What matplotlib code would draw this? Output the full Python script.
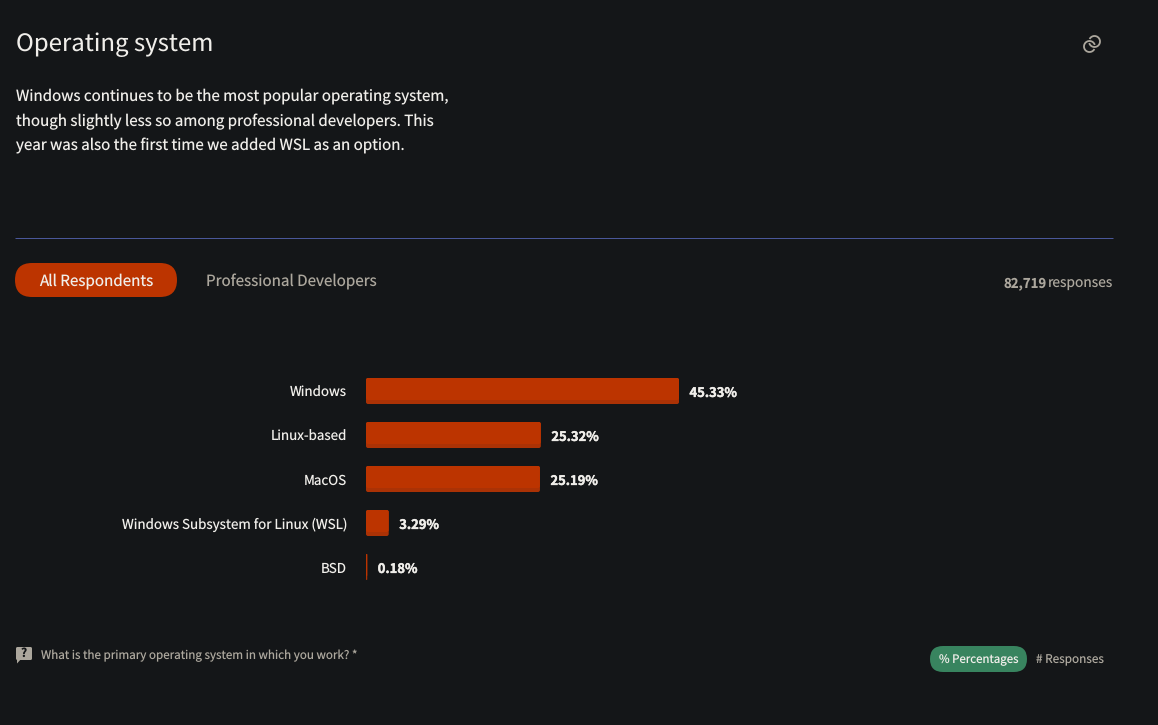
import matplotlib
matplotlib.use("Agg")
import matplotlib.pyplot as plt
import matplotlib.patheffects as pe
from matplotlib.patches import FancyBboxPatch, Polygon, Arc

plt.rcParams["font.family"] = ["Noto Sans CJK SC", "DejaVu Sans"]
plt.rcParams["text.hinting"] = "no_hinting"
plt.rcParams["text.hinting_factor"] = 1

categories = ["Windows", "Linux-based", "MacOS", "Windows Subsystem for Linux (WSL)", "BSD"]
percentages = [45.33, 25.32, 25.19, 3.29, 0.18]
intro_lines = [
    "Windows continues to be the most popular operating system,",
    "though slightly less so among professional developers. This",
    "year was also the first time we added WSL as an option.",
]

W, H = 1158, 725
BG = "#141618"
ORANGE = "#bc3400"
ORANGE_DARK = "#ab3205"
TEXT = "#f0eeea"
MUTED = "#aca79d"


def px(size):
    # font size in css pixels to points at dpi 100
    return size * 0.72


fig = plt.figure(figsize=(W / 100, H / 100), dpi=100, facecolor=BG)

# page layer, measured in pixels from the top left
page = fig.add_axes([0, 0, 1, 1])
page.set_xlim(0, W)
page.set_ylim(H, 0)
page.axis("off")

page.text(15.5, 45, "Operating system", color=TEXT, fontsize=px(24), va="center")
for i, line in enumerate(intro_lines):
    page.text(15.5, 97.4 + i * 24.3, line, color=TEXT, fontsize=px(15.15), va="center")

page.plot([15, 1113], [238, 238], color="#4a5799", lw=0.72, solid_capstyle="butt")

# tabs
page.add_patch(FancyBboxPatch((15, 263), 162, 34, boxstyle="round,pad=0,rounding_size=17",
                              fc=ORANGE, ec="none"))
page.text(96, 281.5, "All Respondents", color=TEXT, fontsize=px(15.2), ha="center", va="center")
page.text(291, 281.5, "Professional Developers", color=MUTED, fontsize=px(15.2), ha="center", va="center")

page.text(1113.5, 284, "responses", color=MUTED, fontsize=px(13.8), ha="right", va="center")
page.text(1046.5, 284, "82,719", color=MUTED, fontsize=px(13.2), ha="right", va="center", fontweight="bold")

# link icon, two interlocked rings
page.add_patch(Arc((1089.5, 46.5), 11, 11, theta1=27, theta2=343, ec=MUTED, lw=1.3))
page.add_patch(Arc((1094.5, 41.5), 11, 11, theta1=207, theta2=523, ec=MUTED, lw=1.3))

# question bubble and footer
page.add_patch(FancyBboxPatch((16, 647), 16, 13, boxstyle="round,pad=0,rounding_size=1.5", fc=MUTED, ec="none"))
page.add_patch(Polygon([[17, 658], [22, 658], [17, 663.5]], fc=MUTED, ec="none"))
page.text(24, 653.5, "?", color=BG, fontsize=px(12), ha="center", va="center", fontweight="bold")
page.text(41, 655.5, "What is the primary operating system in which you work? *", color=MUTED,
          fontsize=px(11.65), va="center")

page.add_patch(FancyBboxPatch((930, 646), 97, 26, boxstyle="round,pad=0,rounding_size=13",
                              fc="#38845f", ec="none"))
page.text(978.5, 659.5, "% Percentages", color=TEXT, fontsize=px(11.5), ha="center", va="center")
page.text(1070, 659.5, "# Responses", color=MUTED, fontsize=px(11.8), ha="center", va="center")

# bar chart, 6.905 px per percentage point and 44 px per row
ax = fig.add_axes([366 / W, 1 - 589 / H, 747 / W, 220 / H])
ax.patch.set_alpha(0)
x_scale = 6.905
ax.set_xlim(0, 747 / x_scale)
ax.set_ylim(4.5, -0.5)
ax.set_xticks([])
ax.set_yticks([])
for spine in ax.spines.values():
    spine.set_visible(False)

bar_h = 26 / 44
top_h = 22 / 44
aspect = (1 / 44) / (1 / x_scale)
for i, (name, v) in enumerate(zip(categories, percentages)):
    r = min(2 / x_scale, v / 2)
    box = f"round,pad=0,rounding_size={r}"
    ax.add_patch(FancyBboxPatch((0, i - bar_h / 2), v, bar_h, boxstyle=box,
                                fc=ORANGE_DARK, ec="none", mutation_aspect=aspect))
    ax.add_patch(FancyBboxPatch((0, i - bar_h / 2), v, top_h, boxstyle=box,
                                fc=ORANGE, ec="none", mutation_aspect=aspect))
    ax.text(-19 / x_scale, i + 2 / 44, name, color=TEXT, fontsize=px(13.4), ha="right", va="center")
    ax.text(v + 10.5 / x_scale, i + 2 / 44, f"{v:.2f}%", color=TEXT, fontsize=px(13),
            fontweight="bold", va="center",
            path_effects=[pe.withStroke(linewidth=0.3, foreground=TEXT)])

fig.savefig("out.png", dpi=100, facecolor=BG)
